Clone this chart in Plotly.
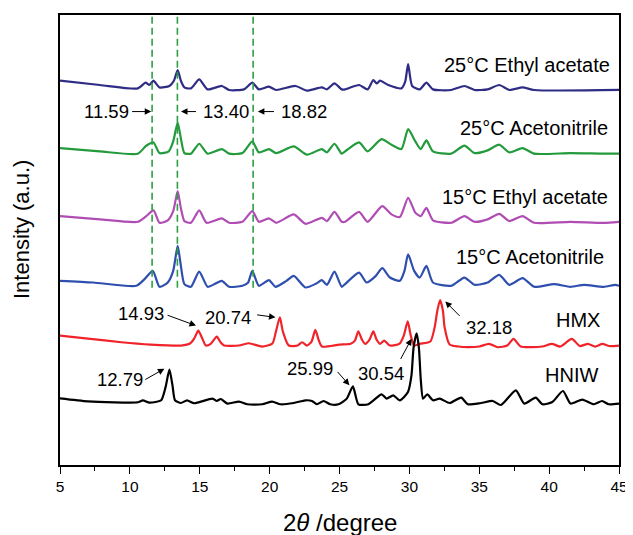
import plotly.graph_objects as go

# ---------------- data (2theta in degree, intensity in a.u., stacked) ----------------
ea25_x = [5, 7.85, 10.57, 11.12, 11.4, 11.69, 12.12, 12.83, 13.15, 13.42, 13.65, 13.9, 14.37, 14.96, 15.56,
          16.58, 17.1, 18.17, 18.76, 19.23, 19.95, 20.47, 21.85, 22.67, 23.74, 24.1, 24.64, 25.16, 25.4,
          26.4, 27.01, 27.42, 27.66, 27.9, 28.49, 29.43, 29.7, 29.91, 30.2, 30.74, 31.22, 31.69, 32.99,
          33.94, 34.66, 35.6, 36.43, 37.15, 38.1, 38.93, 45]
ea25_y = [386, 381.7, 378.3, 384, 381.7, 386, 379.3, 380.7, 386, 396.7, 386, 379.3, 378.3, 387.3, 377.3,
          380.7, 376.7, 377.3, 384, 377.3, 380, 376.7, 380.7, 376, 379.3, 377.3, 383.3, 377.3, 377.3,
          381.7, 377.3, 386.7, 383.3, 386, 381.7, 378.3, 385, 402.7, 380.7, 377.3, 384, 377.3, 376.7,
          380.7, 376.7, 377.3, 381.7, 376.7, 379.3, 376.7, 376.7]

an25_x = [5, 7.85, 10.57, 11.17, 11.69, 12.12, 12.78, 13.1, 13.42, 13.65, 13.9, 14.37, 14.96, 15.56, 16.58,
          17.1, 18.05, 18.76, 19.23, 19.95, 20.47, 21.73, 22.67, 23.74, 24.1, 24.64, 25.16, 25.4, 26.4,
          27.01, 28.01, 28.72, 29.43, 29.91, 30.43, 30.81, 31.22, 31.69, 32.99, 33.94, 34.66, 35.6, 36.43,
          37.15, 38.1, 38.93, 41.53, 43.9, 45]
an25_y = [318.3, 315, 312.7, 320.7, 324, 313.3, 315, 325, 344, 328, 313.3, 312.7, 322.7, 312.7, 317.3,
          312.7, 313.3, 325, 314, 317.3, 313.3, 320, 311.7, 317.3, 314, 322.7, 312.7, 315, 324,
          315, 327.3, 321.7, 317.3, 337.3, 325, 317.3, 326, 315, 312.7, 320.7, 313.3, 316, 321.7,
          314, 318.3, 312.7, 313.3, 312.7, 312.7]

ea15_x = [5, 7.85, 10.57, 11.17, 11.69, 12.12, 12.71, 13.1, 13.42, 13.65, 13.9, 14.37, 14.96, 15.49, 16.58,
          17.1, 18.05, 18.76, 19.23, 19.95, 20.47, 21.73, 22.56, 23.74, 24.1, 24.64, 25.16, 25.4, 26.4,
          27.01, 28.06, 28.72, 29.32, 29.91, 30.43, 30.81, 31.22, 31.69, 32.99, 33.94, 34.66, 35.6, 36.43,
          37.15, 38.1, 38.93, 41.53, 43.9, 45]
ea15_y = [250, 246.7, 244.3, 250, 255.7, 243.3, 245.7, 255, 275, 258, 245, 243.3, 255.7, 243.3, 247.7,
          243.3, 244.3, 255, 244.3, 247.7, 243.3, 251.7, 242.3, 248.3, 245, 254.3, 244.3, 244.3, 254.3,
          244.3, 260, 251.7, 249, 268.3, 253.3, 250, 258.3, 245.7, 243.3, 250, 244.3, 246.7, 252.3,
          245, 250, 243.3, 244.3, 243.3, 244.3]

an15_x = [5, 7.37, 10.46, 11.05, 11.64, 12.12, 12.71, 13.1, 13.42, 13.65, 13.9, 14.37, 14.96, 15.56, 16.1,
          16.58, 17.1, 18.05, 18.45, 18.76, 19.23, 19.95, 20.42, 21.2, 21.73, 22.56, 23.3, 23.74, 24.1,
          24.64, 25.16, 25.4, 26.4, 26.94, 27.6, 28.06, 28.61, 29.32, 29.65, 29.91, 30.34, 30.74, 31.22,
          31.69, 32.99, 33.94, 34.66, 35.6, 36.43, 37.15, 38.1, 38.93, 40.35, 41.53, 42.5, 43.9, 44.74, 45]
an15_y = [185, 183.3, 180, 186.7, 195, 179, 183.3, 195, 220, 200, 181.7, 179, 194.3, 179, 182,
          185, 179, 180, 183, 195, 180, 185.7, 179, 185, 190, 178.3, 182, 185.7, 181,
          194.3, 179, 181.7, 193.3, 183.3, 190, 197.7, 188.3, 185, 195, 211.7, 195, 188.3, 200,
          183.3, 180, 188.3, 181, 183.3, 191, 181, 187.7, 179, 181.7, 179, 181, 179, 181, 180]

hmx_x = [5, 7, 9.39, 11.5, 13.66, 14.3, 14.6, 14.9, 15.15, 15.44, 15.8, 16.22, 16.5, 16.74, 17.8, 18.52,
         19.47, 20.2, 20.45, 20.73, 20.95, 21.37, 22.0, 22.32, 22.67, 23.0, 23.27, 23.5, 23.74, 25.0,
         25.8, 26.1, 26.35, 26.6, 26.83, 27.15, 27.42, 27.65, 27.9, 28.2, 28.61, 29.3, 29.6, 29.88,
         30.1, 30.34, 30.74, 31.5, 31.81, 32.0, 32.2, 32.4, 32.52, 32.88, 33.5, 34.18, 35.0, 35.7,
         36.32, 37.0, 37.45, 37.97, 39.5, 40.2, 40.8, 41.62, 42.2, 42.78, 43.3, 43.81, 44.3, 45]
hmx_y = [130, 127, 123.3, 121, 120, 122, 127, 135, 128, 120, 122, 129, 123, 120, 120, 122.3,
         119, 122, 134, 148.3, 134, 120, 120, 123.3, 120, 124, 135.7, 126, 119, 121,
         121.7, 125, 134.3, 126, 121.7, 126, 134.3, 126, 121.7, 125, 120, 122, 130, 144.3,
         130, 120, 121.7, 124, 138.3, 155, 165.7, 155, 138.3, 121, 119, 118.3, 119, 121.7,
         118.3, 120, 126.7, 119, 119, 121.7, 119, 126.7, 119.5, 121.7, 119, 121.7, 119.5, 120]

hniw_x = [5, 7, 10.57, 10.93, 11.4, 12.24, 12.55, 12.83, 13.05, 13.23, 13.66, 14.09, 14.6, 15.91, 16.22,
          16.5, 16.98, 17.81, 18.4, 19.47, 20.18, 20.78, 21.73, 22.56, 23.03, 23.38, 23.86, 24.34, 24.93,
          25.52, 25.96, 26.35, 27.06, 28.01, 28.37, 28.84, 29.32, 29.9, 30.15, 30.3, 30.52, 30.68, 30.82,
          30.98, 31.28, 31.69, 32.17, 32.88, 33.71, 34.18, 35.13, 35.96, 36.55, 37.62, 38.22, 39.04,
          39.52, 40.23, 40.99, 41.53, 42.37, 43.2, 43.79, 44.27, 45]
hniw_y = [67, 64, 63, 65, 62.7, 65, 78, 95.7, 80, 65, 62.3, 65, 62, 66.7, 64.3,
          66.3, 61.7, 63.7, 61, 61, 63.7, 61, 62.3, 65, 64.3, 61, 64.3, 61, 61,
          66.7, 79, 61, 61, 71, 66.7, 70, 65, 73.3, 90, 118, 132.3, 118, 85,
          66.7, 71, 65, 66.7, 62.3, 67.7, 61, 62.3, 64.3, 60.3, 75, 61.7, 67.7,
          61, 63.3, 74.3, 61.7, 65.7, 61, 64.3, 61, 61.7]

series_names = ["25°C Ethyl acetate", "25°C Acetonitrile", "15°C Ethyl acetate",
                "15°C Acetonitrile", "HMX", "HNIW"]
series_colors = ["#2E2C84", "#239A3B", "#B04DB4", "#2F4FAE", "#F0232A", "#000000"]

marked_peaks = [11.59, 13.40, 18.82]

# ---------------- figure ----------------
fig = go.Figure()
xs = [ea25_x, an25_x, ea15_x, an15_x, hmx_x, hniw_x]
ys = [ea25_y, an25_y, ea15_y, an15_y, hmx_y, hniw_y]
for x, y, name, col in zip(xs, ys, series_names, series_colors):
    fig.add_trace(go.Scatter(x=x, y=y, mode="lines", name=name,
                             line=dict(color=col, width=2.2, shape="spline", smoothing=0.6)))

for p in marked_peaks:
    fig.add_shape(type="line", x0=p, x1=p, y0=178, y1=452, xref="x", yref="y",
                  line=dict(color="#2E9E45", width=1.6, dash="7px,4px"))

FONT = "Liberation Sans, Arial, sans-serif"
ann = []
# sample labels (right aligned)
labels = [("25°C Ethyl acetate", 44.5, 401.7), ("25°C Acetonitrile", 44.38, 338.3),
          ("15°C Ethyl acetate", 44.34, 269), ("15°C Acetonitrile", 44.1, 209),
          ("HMX", 43.79, 145.7), ("HNIW", 43.65, 90)]
for t, x, y in labels:
    ann.append(dict(x=x, y=y, text=t, showarrow=False, xanchor="right", yanchor="middle",
                    font=dict(size=20, color="black", family=FONT)))

# peak value texts
peak_texts = [("11.59", 8.32, 355), ("13.40", 16.86, 355), ("18.82", 22.44, 355),
              ("14.93", 10.8, 151.7), ("20.74", 16.99, 148.3), ("32.18", 35.73, 138.3),
              ("12.79", 9.27, 85.7), ("25.99", 22.89, 96.7), ("30.54", 27.99, 91.7)]
for t, x, y in peak_texts:
    ann.append(dict(x=x, y=y, text=t, showarrow=False, xanchor="center", yanchor="middle",
                    font=dict(size=18.5, color="black", family=FONT)))

# arrows: (tail x, tail y, head x, head y)
arrows = [(10.05, 355, 11.53, 355), (14.84, 355, 13.66, 355), (20.42, 355, 19.16, 355),
          (12.59, 151, 14.73, 140), (19.0, 151, 20.42, 148.3), (33.70, 148.3, 32.57, 164.3),
          (11.0, 85, 12.47, 96.7), (24.77, 95, 25.71, 80), (29.32, 105, 30.15, 126.7)]
for tx, ty, hx, hy in arrows:
    ann.append(dict(x=hx, y=hy, ax=tx, ay=ty, axref="x", ayref="y", xref="x", yref="y",
                    text="", showarrow=True, arrowhead=2, arrowsize=1.3, arrowwidth=1,
                    arrowcolor="black"))

# axis titles
ann.append(dict(xref="paper", yref="paper", x=0, y=(465 - 229) / 452, xshift=-39,
                text="Intensity (a.u.)", textangle=-90, showarrow=False,
                xanchor="center", yanchor="middle",
                font=dict(size=22, color="black", family=FONT)))
ann.append(dict(xref="paper", yref="paper", x=0.5, y=0, yshift=-57,
                text="2<i>θ</i> /degree", showarrow=False, xanchor="center", yanchor="middle",
                font=dict(size=24, color="black", family=FONT)))

fig.update_layout(
    width=625, height=527,
    margin=dict(l=52, r=11, t=5, b=70),
    paper_bgcolor="white", plot_bgcolor="white",
    showlegend=False,
    annotations=ann,
    font=dict(family=FONT, color="black"),
)
fig.update_xaxes(range=[5, 45], dtick=5, tick0=5, ticks="outside", ticklen=7, tickwidth=1.3,
                 tickcolor="black", showline=True, linecolor="black", linewidth=1.5,
                 mirror=True, showgrid=False, zeroline=False,
                 tickfont=dict(size=15.5, color="black", family=FONT),
                 minor=dict(dtick=2.5, tick0=5, ticks="outside", ticklen=4, tickwidth=1.2,
                            tickcolor="black", showgrid=False))
fig.update_yaxes(range=[0, 452], showticklabels=False, ticks="", showline=True, linecolor="black",
                 linewidth=1.5, mirror=True, showgrid=False, zeroline=False)

fig.write_html("out.html")
